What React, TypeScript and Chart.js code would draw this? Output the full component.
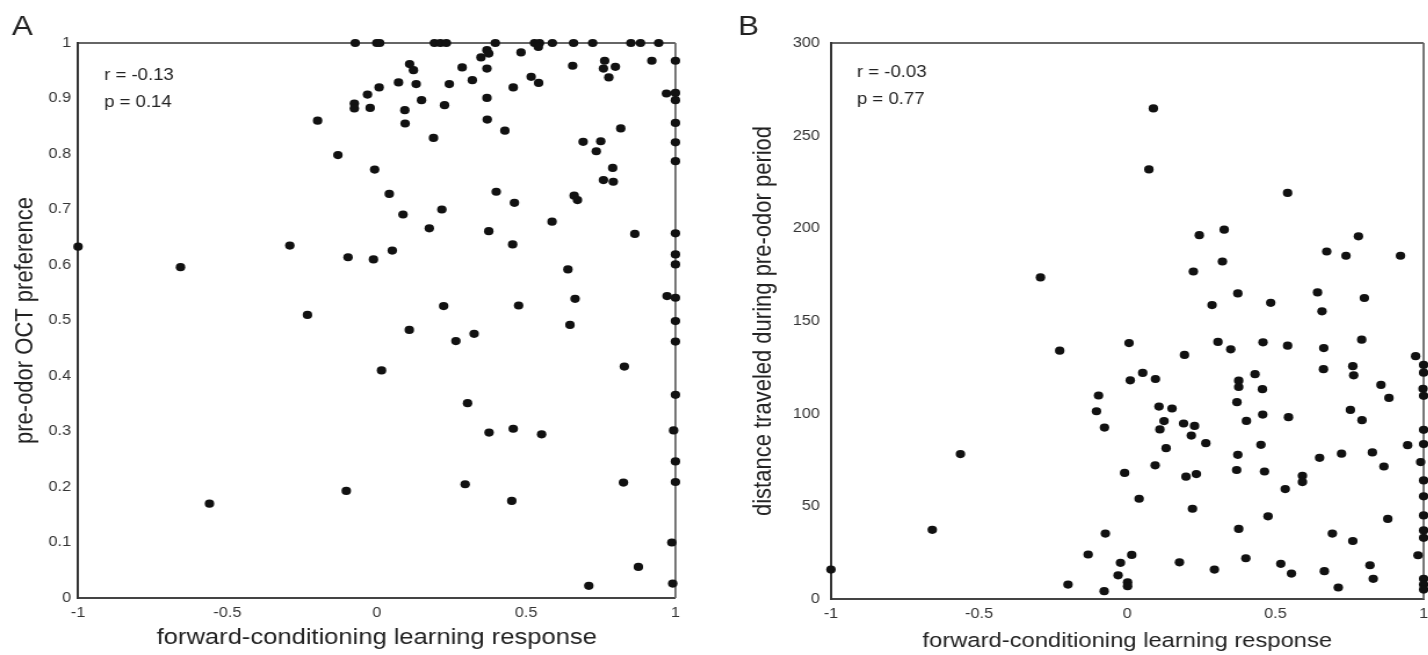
import React, { useEffect, useRef } from "react";
import { Chart, registerables } from "chart.js";

Chart.register(...registerables);

const FONT = "'Liberation Sans', Arial, Helvetica, sans-serif";
const STRETCH = 1.16; // the reference figure is horizontally stretched

// shared x axis
const xTicks = [-1, -0.5, 0, 0.5, 1];
const xTickLabels = ["-1", "-0.5", "0", "0.5", "1"];
const xTitle = "forward-conditioning learning response";

// Panel A
const aYTicks = [0, 0.1, 0.2, 0.3, 0.4, 0.5, 0.6, 0.7, 0.8, 0.9, 1];
const aYTickLabels = ["0", "0.1", "0.2", "0.3", "0.4", "0.5", "0.6", "0.7", "0.8", "0.9", "1"];
const aYTitle = "pre-odor OCT preference";
const aStats = ["r = -0.13", "p = 0.14"];
const aX = [
  -0.072, 0.0, 0.01, 0.193, 0.213, 0.233, 0.397, 0.528, 0.545, 0.588, 0.659, 0.723, 0.851, 0.883, 0.944,
  0.008, -0.031, -0.075, -0.075, -0.022, -0.198, -0.13, -0.007, -1.0, -0.657, -0.291, -0.096, -0.011, -0.232,
  0.369, 0.375, 0.349, 0.483, 0.541, 0.11, 0.123, 0.286, 0.369, 0.656, 0.763, 0.759, 0.799, 0.777, 0.921, 1.0,
  0.073, 0.132, 0.243, 0.32, 0.457, 0.517, 0.542, 0.094, 0.15, 0.227, 0.369, 0.97, 1.0, 1.0,
  0.095, 0.37, 0.429, 0.19, 0.817, 1.0, 0.691, 0.75, 0.735, 1.0, 1.0, 0.79, 0.759, 0.792,
  0.042, 0.4, 0.461, 0.661, 0.672, 0.088, 0.218, 0.176, 0.587, 0.375, 0.864, 1.0, 0.455, 0.052, 1.0, 1.0,
  0.64, 0.664, 0.972, 1.0, 0.224, 0.475, 1.0, 0.647, 0.109, 0.326, 0.265, 1.0, 0.016, 0.829, 1.0,
  0.304, 0.376, 0.457, 0.552, 0.994, 1.0, 0.296, 0.826, 1.0, 0.452, 0.988, 0.876, 0.71, 0.991, -0.56, -0.102,
];
const aY = [
  1, 1, 1, 1, 1, 1, 1, 1, 1, 1, 1, 1, 1, 1, 1,
  0.92, 0.907, 0.891, 0.882, 0.883, 0.86, 0.798, 0.772, 0.633, 0.596, 0.635, 0.614, 0.61, 0.51,
  0.987, 0.981, 0.974, 0.983, 0.993, 0.962, 0.951, 0.956, 0.954, 0.959, 0.968, 0.954, 0.957, 0.938, 0.968, 0.968,
  0.929, 0.926, 0.926, 0.933, 0.92, 0.939, 0.928, 0.879, 0.897, 0.888, 0.901, 0.909, 0.91, 0.897,
  0.855, 0.862, 0.842, 0.829, 0.846, 0.856, 0.822, 0.823, 0.805, 0.821, 0.787, 0.775, 0.753, 0.75,
  0.728, 0.732, 0.712, 0.725, 0.717, 0.691, 0.7, 0.666, 0.678, 0.661, 0.656, 0.657, 0.637, 0.626, 0.619, 0.601,
  0.592, 0.539, 0.544, 0.541, 0.526, 0.527, 0.499, 0.492, 0.483, 0.476, 0.463, 0.462, 0.41, 0.417, 0.366,
  0.351, 0.298, 0.305, 0.295, 0.302, 0.246, 0.205, 0.208, 0.209, 0.175, 0.1, 0.056, 0.022, 0.026, 0.17, 0.193,
];

// Panel B
const bYTicks = [0, 50, 100, 150, 200, 250, 300];
const bYTickLabels = ["0", "50", "100", "150", "200", "250", "300"];
const bYTitle = "distance traveled during pre-odor period";
const bStats = ["r = -0.03", "p = 0.77"];
const bX = [
  -0.293, 0.088, 0.073, 0.541, 0.243, 0.327, 0.78, 0.673, 0.738, 0.922, 0.321, 0.223, 0.373, 0.286, 0.484, 0.642, 0.8, 0.657,
  -0.228, 0.006, 0.193, 0.306, 0.349, 0.458, 0.541, 0.663, 0.791, 0.973, 1.0, 1.0, 0.662, 0.761, 0.764,
  0.01, 0.052, 0.095, 0.431, 0.376, 0.376, 0.456, 0.856, 0.883, 0.998, 1.0,
  -0.097, -0.104, -0.077, 0.107, 0.151, 0.124, 0.11, 0.19, 0.227, 0.216, 0.265, 0.131,
  0.37, 0.457, 0.402, 0.544, 0.753, 0.792, 0.451, 0.373, 0.369, 0.463, 0.649, 0.723, 0.827, 0.866, 0.946,
  1.0, 1.0, 0.99, 1.0, 1.0, 1.0, 1.0, 1.0, 0.981, 1.0, 1.0, 1.0,
  -0.009, 0.198, 0.233, 0.094, 0.591, 0.591, 0.533, 0.04, 0.22, 0.475, 0.879, 0.376, 0.692, 0.761,
  -0.074, -0.132, 0.015, -0.023, 0.176, 0.4, 0.518, 0.554, 0.294, 0.665, 0.819, 0.83, 0.712,
  -0.031, 0.001, 0.001, -0.078, -0.2, -0.563, -0.658, -1.0,
];
const bY = [
  173.5, 264.7, 231.8, 219.1, 196.3, 199.3, 195.7, 187.5, 185.2, 185.2, 182.1, 176.7, 164.9, 158.6, 159.8, 165.4, 162.4, 155.2,
  134.0, 138.1, 131.7, 138.7, 134.7, 138.5, 136.7, 135.4, 139.9, 131.0, 126.3, 122.1, 124.0, 125.6, 120.7,
  118.0, 122.0, 118.7, 121.3, 117.8, 114.4, 113.2, 115.5, 108.5, 113.4, 109.6,
  109.8, 101.3, 92.5, 103.8, 102.8, 96.0, 91.5, 94.7, 93.4, 88.2, 84.1, 81.4,
  106.2, 99.5, 96.1, 98.1, 102.0, 96.5, 83.2, 77.8, 69.6, 68.8, 76.2, 78.4, 79.1, 71.5, 83.0,
  91.3, 83.6, 73.9, 64.0, 55.4, 45.1, 37.0, 33.0, 23.6, 10.9, 7.8, 5.1,
  68.0, 66.0, 67.4, 72.1, 66.5, 63.1, 59.3, 54.1, 48.7, 44.6, 43.2, 37.8, 35.3, 31.3,
  35.3, 24.0, 23.8, 19.5, 19.8, 22.0, 19.0, 13.7, 15.9, 15.0, 18.2, 10.9, 6.2,
  12.8, 9.0, 6.9, 4.2, 7.8, 78.2, 37.3, 15.9,
];

type PanelCfg = {
  letter: string;
  letterX: number;
  xs: number[];
  ys: number[];
  yTicks: number[];
  yTickLabels: string[];
  yMax: number;
  yTitle: string;
  stats: string[];
  statsY: number[];
  yAxisWidth: number;
  xAxisHeight: number;
  padRight: number;
  yTickPad: number;
  yTitlePad: number;
  xTitlePad: number;
  xTitleSize: number;
};

function makeChart(canvas: HTMLCanvasElement, p: PanelCfg) {
  const deco = {
    id: "deco",
    beforeDatasetsDraw(chart: any) {
      const { ctx, chartArea } = chart;
      ctx.save();
      ctx.strokeStyle = "#333";
      ctx.lineWidth = 1.5;
      ctx.beginPath();
      ctx.moveTo(chartArea.left, chartArea.top);
      ctx.lineTo(chartArea.right, chartArea.top);
      ctx.stroke();
      ctx.strokeStyle = "#666";
      ctx.lineWidth = 1.8;
      ctx.beginPath();
      ctx.moveTo(chartArea.right, chartArea.top);
      ctx.lineTo(chartArea.right, chartArea.bottom);
      ctx.stroke();
      ctx.restore();
    },
    afterDraw(chart: any) {
      const { ctx, chartArea } = chart;
      ctx.save();
      ctx.fillStyle = "#222";
      ctx.textBaseline = "middle";
      ctx.textAlign = "left";
      ctx.font = `16px ${FONT}`;
      p.stats.forEach((s, i) => {
        ctx.fillText(s, chartArea.left + 22.4, chartArea.top + p.statsY[i]);
      });
      ctx.font = `27px ${FONT}`;
      ctx.fillText(p.letter, p.letterX, 28);
      ctx.restore();
    },
  };

  return new Chart(canvas, {
    type: "scatter",
    data: {
      datasets: [
        {
          data: p.xs.map((x, i) => ({ x, y: p.ys[i] })),
          pointRadius: 4.1,
          pointHoverRadius: 4.1,
          pointBackgroundColor: "#111",
          pointBorderWidth: 0,
          borderWidth: 0,
          clip: false as any,
        },
      ],
    },
    options: {
      responsive: false,
      animation: false,
      devicePixelRatio: 1,
      events: [],
      layout: { padding: { top: 43, right: p.padRight, left: 0, bottom: 0 } },
      plugins: { legend: { display: false }, tooltip: { enabled: false } },
      scales: {
        x: {
          type: "linear",
          min: -1,
          max: 1,
          afterBuildTicks: (scale: any) => {
            scale.ticks = xTicks.map((v) => ({ value: v }));
          },
          afterFit: (scale: any) => {
            scale.height = p.xAxisHeight;
          },
          grid: { display: false, drawTicks: false },
          border: { display: true, color: "#444", width: 2 },
          ticks: {
            padding: 7,
            color: "#333",
            font: { family: FONT, size: 14 },
            maxRotation: 0,
            autoSkip: false,
            callback: (_v: any, i: number) => xTickLabels[i],
          },
          title: {
            display: true,
            text: xTitle,
            color: "#222",
            font: { family: FONT, size: p.xTitleSize },
            padding: { top: 0, bottom: p.xTitlePad },
          },
        },
        y: {
          type: "linear",
          min: 0,
          max: p.yMax,
          afterBuildTicks: (scale: any) => {
            scale.ticks = p.yTicks.map((v) => ({ value: v }));
          },
          afterFit: (scale: any) => {
            scale.width = p.yAxisWidth;
          },
          grid: { display: false, drawTicks: false },
          border: { display: true, color: "#333", width: 2 },
          ticks: {
            padding: p.yTickPad,
            color: "#333",
            font: { family: FONT, size: 14 },
            autoSkip: false,
            callback: (_v: any, i: number) => p.yTickLabels[i],
          },
          title: {
            display: true,
            text: p.yTitle,
            color: "#222",
            font: { family: FONT, size: 22 },
            padding: { top: p.yTitlePad, bottom: 0 },
          },
        },
      },
    },
    plugins: [deco],
  } as any);
}

// canvas intrinsic widths (drawn, then stretched horizontally by STRETCH)
const A_W = 616;
const B_W = 640;

export default function App() {
  const refA = useRef<HTMLCanvasElement | null>(null);
  const refB = useRef<HTMLCanvasElement | null>(null);

  useEffect(() => {
    const s = STRETCH;
    const ca = makeChart(refA.current!, {
      letter: "A",
      letterX: 12 / s,
      xs: aX,
      ys: aY,
      yTicks: aYTicks,
      yTickLabels: aYTickLabels,
      yMax: 1,
      yTitle: aYTitle,
      stats: aStats,
      statsY: [33, 60],
      yAxisWidth: 78 / s,
      xAxisHeight: 57,
      padRight: A_W - 675 / s,
      yTickPad: 6,
      yTitlePad: 25 / s - 13.2,
      xTitlePad: 4,
      xTitleSize: 22,
    });
    const cb = makeChart(refB.current!, {
      letter: "B",
      letterX: 24 / s,
      xs: bX,
      ys: bY,
      yTicks: bYTicks,
      yTickLabels: bYTickLabels,
      yMax: 300,
      yTitle: bYTitle,
      stats: bStats,
      statsY: [30, 57],
      yAxisWidth: 117 / s,
      xAxisHeight: 56,
      padRight: B_W - 710 / s,
      yTickPad: 9.5,
      yTitlePad: 50 / s - 13.2,
      xTitlePad: 1,
      xTitleSize: 20.5,
    });
    return () => {
      ca.destroy();
      cb.destroy();
    };
  }, []);

  return (
    <div style={{ position: "absolute", left: 0, top: 0, width: 1428, height: 655, background: "#fff", overflow: "hidden" }}>
      <canvas
        ref={refA}
        width={A_W}
        height={655}
        style={{ position: "absolute", left: 0, top: 0, width: A_W * STRETCH, height: 655 }}
      />
      <canvas
        ref={refB}
        width={B_W}
        height={655}
        style={{ position: "absolute", left: 714, top: 0, width: B_W * STRETCH, height: 655 }}
      />
    </div>
  );
}
